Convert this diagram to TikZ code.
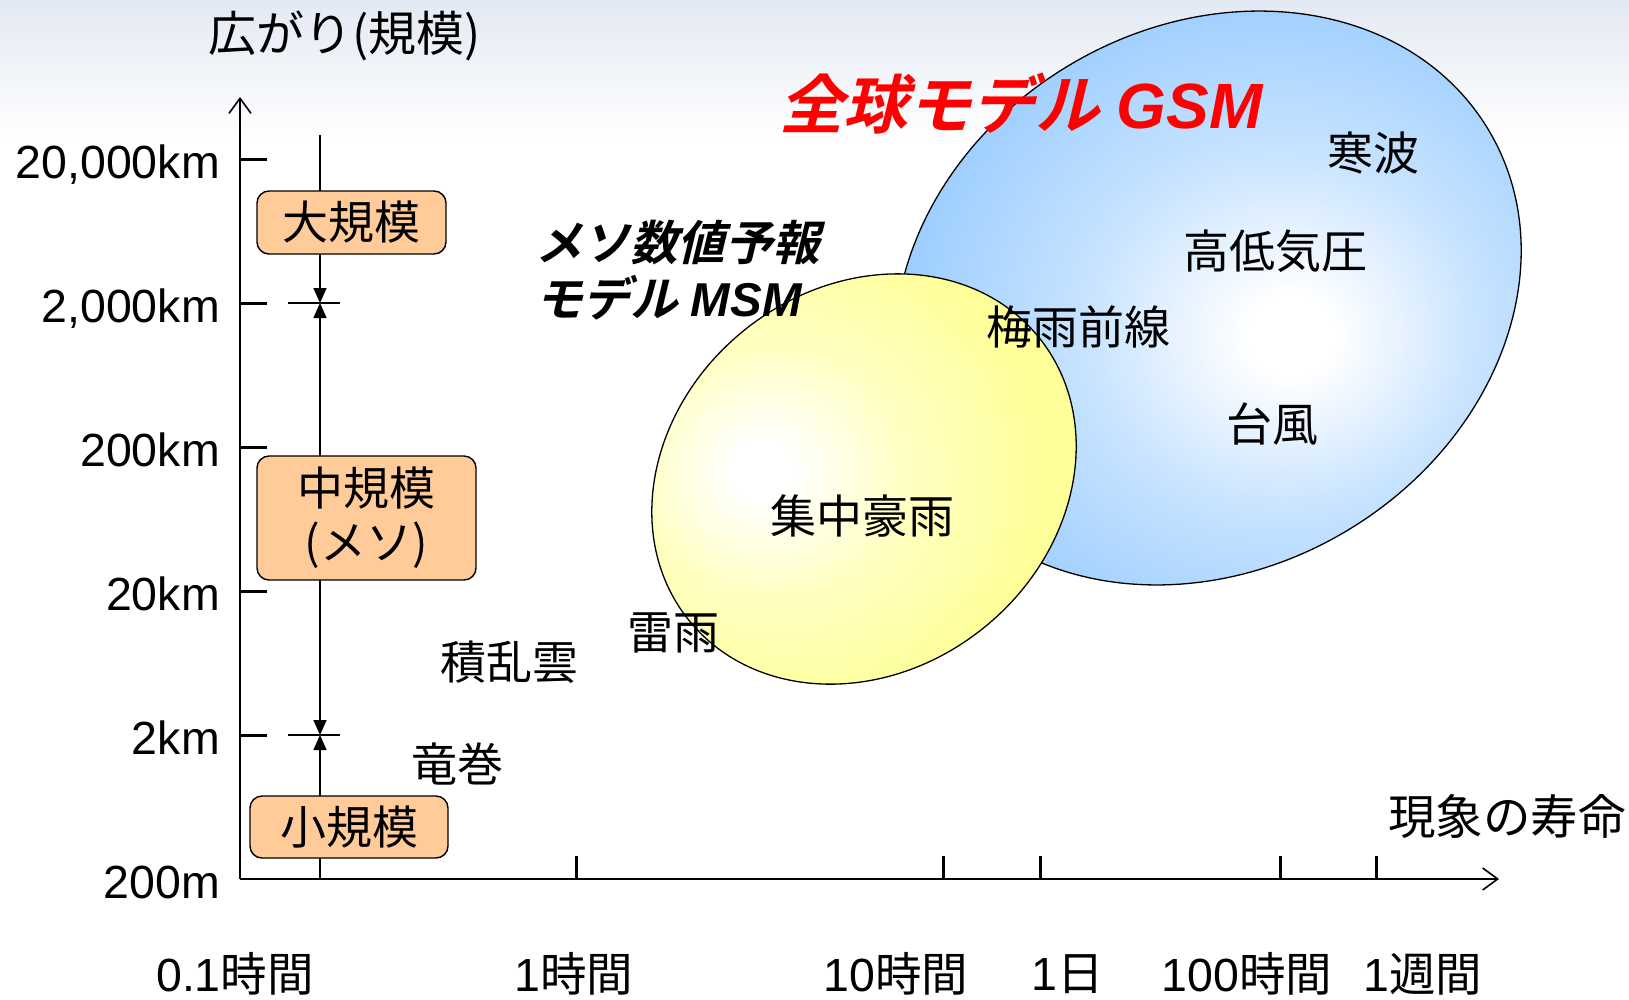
\documentclass[tikz,border=0pt]{standalone}
\usepackage{fontspec}
\setmainfont{Liberation Sans}
\newfontfamily\jp{Noto Sans CJK JP}
\newfontfamily\jpbi[FakeSlant=0.24]{Noto Sans CJK JP Bold}
\usetikzlibrary{arrows.meta}
\definecolor{boxfill}{HTML}{FFCC99}
\definecolor{shYellow}{HTML}{FFFF99}
\definecolor{shBlue}{HTML}{99CCFF}
\definecolor{bgtop}{HTML}{E3E9F3}
\definecolor{gsmred}{HTML}{FF0000}
\colorlet{midYellow}{shYellow!60!white}
\colorlet{midBlue}{shBlue!55!white}
\pgfdeclareradialshading{yshade}{\pgfpoint{-11bp}{1bp}}{color(0bp)=(white); color(3bp)=(white); color(14bp)=(midYellow); color(27bp)=(shYellow); color(100bp)=(shYellow)}
\pgfdeclareradialshading{bshade}{\pgfpoint{6bp}{-3bp}}{color(0bp)=(white); color(3bp)=(white); color(14bp)=(midBlue); color(27bp)=(shBlue); color(100bp)=(shBlue)}
\tikzset{
  lab/.style={inner sep=0pt, font=\jp\fontsize{46}{50}\selectfont},
  num/.style={inner sep=0pt, font=\fontsize{46.5}{50}\selectfont},
  scalebox/.style={draw=black, line width=1.4pt, fill=boxfill, rounded corners=12pt, inner sep=0pt, align=center, font=\jp\fontsize{46}{54}\selectfont},
  axisline/.style={line width=2pt, black},
  tickline/.style={line width=3pt, black},
  scaleline/.style={line width=1.4pt, black},
  crossline/.style={line width=1.2pt, black},
  tri/.tip={Triangle[length=15pt,width=13pt]},
  barb/.tip={Straight Barb[length=15pt,width=22pt,line width=1.6pt]},
}
\begin{document}
\begin{tikzpicture}[x=1pt,y=-1pt]
\useasboundingbox (0,0) rectangle (1629,999);
\fill[white] (0,0) rectangle (1629,999);
\shade[top color=bgtop, bottom color=white] (0,0) rectangle (1629,140);

% ellipses
\shade[shading=bshade, draw=black, line width=1.3pt, rotate around={31:(1208,298)}] (1208,298) ellipse [x radius=327pt, y radius=271pt];
\shade[shading=yshade, draw=black, line width=1.3pt, rotate around={39:(864,479)}] (864,479) ellipse [x radius=225pt, y radius=191pt];

% axes
\coordinate (O) at (240,879);
\coordinate (ytop) at (240,97);
\coordinate (xend) at (1499,879);
\draw[axisline, -barb] (O) -- (ytop);
\draw[axisline, -barb] (O) -- (xend);

% y ticks and labels
\foreach \yy/\lab [count=\i] in {159/{20,000km}, 303/{2,000km}, 447/200km, 591/20km, 735/2km} {
  \coordinate (yt\i) at (240,\yy);
  \coordinate (ye\i) at (267,\yy);
  \draw[tickline] (yt\i) -- (ye\i);
  \node[num, anchor=base east] (yl\i) at (220,\yy+19) {\lab};
}
\node[num, anchor=base east] (yl6) at (220,879+19) {200m};

% x ticks
\foreach \xx [count=\i] in {576,943,1040,1280,1376} {
  \coordinate (xb\i) at (\xx,879);
  \coordinate (xt\i) at (\xx,856);
  \draw[tickline] (xb\i) -- (xt\i);
}

% x labels
\node[num] (xl0) at (235,974) {0.1{\jp 時間}};
\node[num] (xl1) at (574,974) {1{\jp 時間}};
\node[num] (xl2) at (896,974) {10{\jp 時間}};
\node[num] (xl3) at (1068,974) {1{\jp 日}};
\node[num] (xl4) at (1247,974) {100{\jp 時間}};
\node[num] (xl5) at (1423,974) {1{\jp 週間}};

% axis titles
\node[lab, anchor=west, font=\jp\fontsize{48}{50}\selectfont] (ytitle) at (208,36) {広がり(規模)};
\node[lab, anchor=west, font=\jp\fontsize{47.5}{50}\selectfont] (xtitle) at (1388,816) {現象の寿命};

% scale line
\coordinate (sTop) at (320,135);
\coordinate (c1) at (320,303);
\coordinate (c2) at (320,735);
\coordinate (sBot) at (320,879);
\draw[scaleline, -tri] (sTop) -- (c1);
\draw[scaleline, tri-tri] (c1) -- (c2);
\draw[scaleline, -tri] (sBot) -- (c2);
\coordinate (c1l) at (288,303);
\coordinate (c1r) at (340,303);
\coordinate (c2l) at (288,735);
\coordinate (c2r) at (340,735);
\draw[crossline] (c1l) -- (c1r);
\draw[crossline] (c2l) -- (c2r);

% scale boxes
\node[scalebox, minimum width=189pt, minimum height=63pt] (large) at (351.5,222.5) {大規模};
\node[scalebox, minimum width=219pt, minimum height=124pt] (meso) at (366.5,518) {中規模\\(メソ)};
\node[scalebox, minimum width=198pt, minimum height=62pt] (small) at (349,827) {小規模};

% phenomena
\node[lab] (tatsumaki) at (457,764) {竜巻};
\node[lab] (sekiran) at (509,662) {積乱雲};
\node[lab] (raiu) at (673,633) {雷雨};
\node[lab] (shuchu) at (862,516) {集中豪雨};
\node[lab] (baiu) at (1078,327) {梅雨前線};
\node[lab] (taifu) at (1272,424) {台風};
\node[lab] (koutei) at (1275,251) {高低気圧};
\node[lab] (kanpa) at (1373,153) {寒波};

% model titles
\node[inner sep=0pt, anchor=west, font=\fontsize{47.5}{50}\selectfont] (msm1) at (535,243) {\jpbi メソ数値予報};
\node[inner sep=0pt, anchor=west, font=\fontsize{47.5}{50}\selectfont] (msm2) at (535,298) {{\jpbi モデル} {\bfseries\itshape MSM}};
\node[inner sep=0pt, anchor=west, text=gsmred, font=\fontsize{64}{68}\selectfont] (gsm) at (779,104) {{\jpbi 全球モデル} {\bfseries\itshape GSM}};
\end{tikzpicture}
\end{document}
